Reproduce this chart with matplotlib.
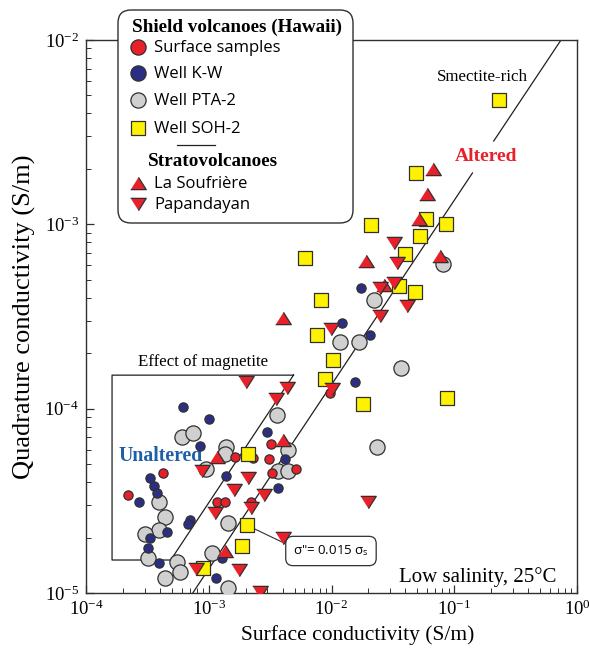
"""
Quadrature vs surface conductivity, volcanic rocks (log-log)
"""

import numpy as np
import matplotlib
matplotlib.use('Agg')
import matplotlib.pyplot as plt
from matplotlib.patches import FancyBboxPatch

plt.rcParams['font.family'] = ['Liberation Serif', 'DejaVu Serif']
plt.rcParams['mathtext.fontset'] = 'stix'

# ---- data (S/m) ----
surf_x = [4.2e-4, 2.2e-4, 1.17e-3, 1.35e-3, 1.64e-3, 2.3e-3, 3.2e-3, 3.1e-3,
          3.3e-3, 5.1e-3, 2.2e-3, 9.7e-3]
surf_y = [4.5e-5, 3.4e-5, 3.1e-5, 3.1e-5, 5.5e-5, 5.4e-5, 6.4e-5, 5.3e-5,
          4.5e-5, 4.7e-5, 3.1e-5, 1.22e-4]

kw_x = [0.0174, 0.0122, 0.0206, 0.0156, 6.2e-4, 1.0e-3, 8.5e-4, 3.0e-3,
        4.2e-3, 1.38e-3, 3.7e-3, 3.3e-4, 3.6e-4, 3.8e-4, 2.7e-4, 7.0e-4,
        6.8e-4, 4.6e-4, 3.3e-4, 3.2e-4, 3.9e-4, 1.15e-3, 1.28e-3]
kw_y = [4.5e-4, 2.9e-4, 2.5e-4, 1.4e-4, 1.02e-4, 8.8e-5, 6.3e-5, 7.5e-5,
        5.3e-5, 4.3e-5, 3.7e-5, 4.2e-5, 3.8e-5, 3.5e-5, 3.1e-5, 2.5e-5,
        2.37e-5, 2.14e-5, 2.0e-5, 1.75e-5, 1.45e-5, 1.2e-5, 1.55e-5]

pta_x = [0.081, 0.022, 0.0117, 0.0168, 0.037, 0.0235, 3.6e-3, 6.05e-4,
         7.45e-4, 1.38e-3, 1.35e-3, 9.5e-4, 4.4e-3, 3.7e-3, 4.4e-3, 3.9e-4,
         4.4e-4, 3.9e-4, 3.0e-4, 3.2e-4, 5.5e-4, 5.8e-4, 4.4e-4, 1.06e-3,
         1.44e-3, 1.44e-3]
pta_y = [6.1e-4, 3.9e-4, 2.3e-4, 2.3e-4, 1.66e-4, 6.2e-5, 9.2e-5, 7.0e-5,
         7.4e-5, 6.2e-5, 5.7e-5, 4.7e-5, 6.0e-5, 4.6e-5, 4.6e-5, 3.1e-5,
         2.6e-5, 2.2e-5, 2.1e-5, 1.55e-5, 1.47e-5, 1.3e-5, 1.2e-5, 1.65e-5,
         2.4e-5, 1.06e-5]

soh_x = [0.23, 0.049, 0.059, 0.086, 0.021, 0.053, 0.040, 6.1e-3, 0.0355,
         0.048, 8.2e-3, 7.6e-3, 0.0103, 8.9e-3, 0.018, 0.087, 2.1e-3,
         2.05e-3, 1.87e-3, 9.0e-4]
soh_y = [4.7e-3, 1.9e-3, 1.07e-3, 1.0e-3, 9.9e-4, 8.6e-4, 6.9e-4, 6.6e-4,
         4.6e-4, 4.3e-4, 3.9e-4, 2.5e-4, 1.84e-4, 1.45e-4, 1.06e-4, 1.14e-4,
         5.7e-5, 2.33e-5, 1.8e-5, 1.36e-5]

souf_x = [0.067, 0.060, 0.052, 0.077, 0.019, 0.027, 4.0e-3, 4.0e-3, 1.17e-3,
          1.35e-3]
souf_y = [2.0e-3, 1.46e-3, 1.07e-3, 6.7e-4, 6.3e-4, 4.7e-4, 3.1e-4, 6.8e-5,
          5.5e-5, 1.7e-5]

papa_x = [0.032, 0.034, 0.032, 0.025, 0.041, 0.025, 9.9e-3, 4.3e-3, 0.0101,
          2.0e-3, 3.5e-3, 8.8e-4, 2.1e-3, 1.6e-3, 2.8e-3, 2.2e-3, 1.12e-3,
          4.0e-3, 0.020, 7.9e-4, 1.76e-3, 2.6e-3]
papa_y = [7.9e-4, 6.2e-4, 4.8e-4, 4.5e-4, 3.6e-4, 3.2e-4, 2.7e-4, 1.3e-4,
          1.28e-4, 1.4e-4, 1.13e-4, 4.6e-5, 4.2e-5, 3.6e-5, 3.4e-5, 2.9e-5,
          2.7e-5, 2.0e-5, 3.1e-5, 1.35e-5, 1.33e-5, 1.01e-5]

# trend line sigma'' = k * sigma_s, and the magnetite box
k_line = 0.0135
gap_y = (1.9e-3, 2.83e-3)
mag_box_x = [4.9e-3, 1.63e-4, 1.63e-4, 4.9e-4, 4.9e-3]
mag_box_y = [1.52e-4, 1.52e-4, 1.51e-5, 1.51e-5, 1.52e-4]

red = '#e8202a'
blue = '#2b2e83'
gray = '#d0d0d0'
yellow = '#fff200'
edge = '#303030'

up_tri = [(-1, -0.79), (1, -0.79), (0, 0.79)]
down_tri = [(-1, 0.79), (1, 0.79), (0, -0.79)]

styles = {
    'pta': dict(marker='o', s=120, c=gray),
    'kw': dict(marker='o', s=44, c=blue),
    'surf': dict(marker='o', s=44, c=red),
    'soh': dict(marker='s', s=92, c=yellow),
    'souf': dict(marker=up_tri, s=125, c=red),
    'papa': dict(marker=down_tri, s=125, c=red),
}

fig = plt.figure(figsize=(5.9, 6.52), dpi=100)
ax = fig.add_axes([86 / 590, 1 - 593 / 652, 491 / 590, 553 / 652])
ax.set_xscale('log')
ax.set_yscale('log')
ax.set_xlim(1e-4, 1)
ax.set_ylim(1e-5, 1e-2)

# lines
lx = np.array([1e-5 / k_line, gap_y[0] / k_line])
ax.plot(lx, k_line * lx, color='#202020', lw=0.9, zorder=2)
lx = np.array([gap_y[1] / k_line, 1e-2 / k_line])
ax.plot(lx, k_line * lx, color='#202020', lw=0.9, zorder=2)
ax.plot(mag_box_x, mag_box_y, color='#202020', lw=0.9, zorder=2)

# points
for key, xs, ys, z in [('pta', pta_x, pta_y, 3), ('kw', kw_x, kw_y, 4),
                       ('surf', surf_x, surf_y, 4), ('soh', soh_x, soh_y, 5),
                       ('souf', souf_x, souf_y, 6), ('papa', papa_x, papa_y, 6)]:
    ax.scatter(xs, ys, edgecolors=edge, linewidths=0.9, zorder=z, **styles[key])

# annotation
ax.annotate('σ"= 0.015 σ$_\\mathregular{s}$', xy=(2.05e-3, 2.33e-5),
            xytext=(9.9e-3, 1.69e-5), ha='center', va='center',
            fontsize=9.5, family=['Open Sans', 'DejaVu Sans'],
            bbox=dict(boxstyle='round,pad=0.55', fc='white', ec=edge, lw=0.9),
            arrowprops=dict(arrowstyle='-', color=edge, lw=0.8,
                            shrinkA=0, shrinkB=6, relpos=(0, 0.75)),
            zorder=2)

ax.text(0.168, 6.3e-3, 'Smectite-rich', ha='center', va='center', fontsize=12.2)
ax.text(0.18, 2.32e-3, 'Altered', ha='center', va='center', fontsize=14,
        fontweight='bold', color=red)
ax.text(8.97e-4, 1.79e-4, 'Effect of magnetite', ha='center', va='center',
        fontsize=12.2)
ax.text(4.08e-4, 5.53e-5, 'Unaltered', ha='center', va='center', fontsize=14.2,
        fontweight='bold', color='#1f5fa8')
ax.text(0.959, 0.029, 'Low salinity, 25°C', transform=ax.transAxes,
        ha='right', va='center', fontsize=15)

ax.set_xlabel('Surface conductivity (S/m)', fontsize=15.5)
ax.set_ylabel('Quadrature conductivity (S/m)', fontsize=19)
ax.xaxis.set_label_coords(0.554, -0.058)
ax.yaxis.set_label_coords(-0.102, 0.5)
ax.tick_params(which='both', direction='in', top=False, right=False,
               labelsize=13.5, color='#303030')
ax.tick_params(which='major', length=6, width=0.9, pad=5)
ax.tick_params(which='minor', length=3.5, width=0.7)
for sp in ax.spines.values():
    sp.set_color('#303030')
    sp.set_linewidth(1.0)

# legend drawn in pixel space on an overlay
lg = fig.add_axes([0, 0, 1, 1], zorder=10)
lg.set_xlim(0, 590)
lg.set_ylim(652, 0)
lg.axis('off')
lg.add_patch(FancyBboxPatch((118, 10), 235, 213,
                            boxstyle='round,pad=0,rounding_size=13',
                            fc='white', ec=edge, lw=1.0))
lg.text(237, 27, 'Shield volcanoes (Hawaii)', ha='center', va='center',
        fontsize=13.8, fontweight='bold')
sans = ['Open Sans', 'DejaVu Sans']
entries = [('surf', 47, 'Surface samples'), ('kw', 73, 'Well K-W'),
           ('pta', 100, 'Well PTA-2'), ('soh', 128, 'Well SOH-2'),
           ('souf', 183, 'La Soufrière'), ('papa', 204, 'Papandayan')]
for key, yy, label in entries:
    st = dict(styles[key])
    if key in ('surf', 'kw'):
        st['s'] = 120
    lg.scatter([138], [yy], edgecolors=edge, linewidths=0.9, **st)
    lg.text(154, yy + 1, label, ha='left', va='center', fontsize=12, family=sans)
lg.plot([177, 215], [145, 145], color='#202020', lw=0.9)
lg.text(213, 162, 'Stratovolcanoes', ha='center', va='center', fontsize=13.8,
        fontweight='bold')

plt.savefig('out.png', dpi=100)
